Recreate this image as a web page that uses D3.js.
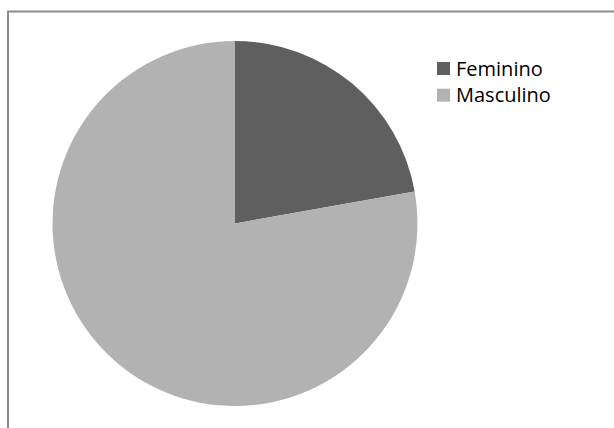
<!DOCTYPE html>
<html>
<head>
<meta charset="utf-8">
<script src="https://cdn.jsdelivr.net/npm/d3@7/dist/d3.min.js"></script>
<style>
  html, body { margin: 0; padding: 0; background: #fff; }
  svg { display: block; }
</style>
</head>
<body>
<svg id="chart" width="614" height="428"></svg>
<script>
// Gender split (percent)
const categories = ["Feminino", "Masculino"];
const values = [22.2, 77.8];
const colors = ["#5f5f5f", "#b2b2b2"];

const svg = d3.select("#chart");
const W = 614, H = 428;

// frame: top and left edges of the chart area
svg.append("path")
  .attr("d", `M8,${H} L8,11.5 L614,11.5`)
  .attr("fill", "none")
  .attr("stroke", "#8c8c8c")
  .attr("stroke-width", 2);

const cx = 235, cy = 223.5, r = 182.5;

const pie = d3.pie().sort(null).value(d => d.v);
const arc = d3.arc().innerRadius(0).outerRadius(r);
const data = categories.map((c, i) => ({ c, v: values[i] }));

const color = d3.scaleOrdinal().domain(categories).range(colors);

svg.append("g")
  .attr("transform", `translate(${cx},${cy})`)
  .selectAll("path")
  .data(pie(data))
  .join("path")
  .attr("d", arc)
  .attr("fill", d => color(d.data.c));

// legend
const legend = svg.append("g").attr("transform", "translate(437,62)");
const item = legend.selectAll("g")
  .data(categories)
  .join("g")
  .attr("transform", (d, i) => `translate(0,${i * 26.7})`);
item.append("rect")
  .attr("width", 13).attr("height", 13)
  .attr("fill", d => color(d));
item.append("text")
  .attr("x", 19).attr("y", 13.5)
  .attr("font-family", "'Open Sans', sans-serif")
  .attr("font-size", 20)
  .attr("fill", "#000")
  .text(d => d);
</script>
</body>
</html>
